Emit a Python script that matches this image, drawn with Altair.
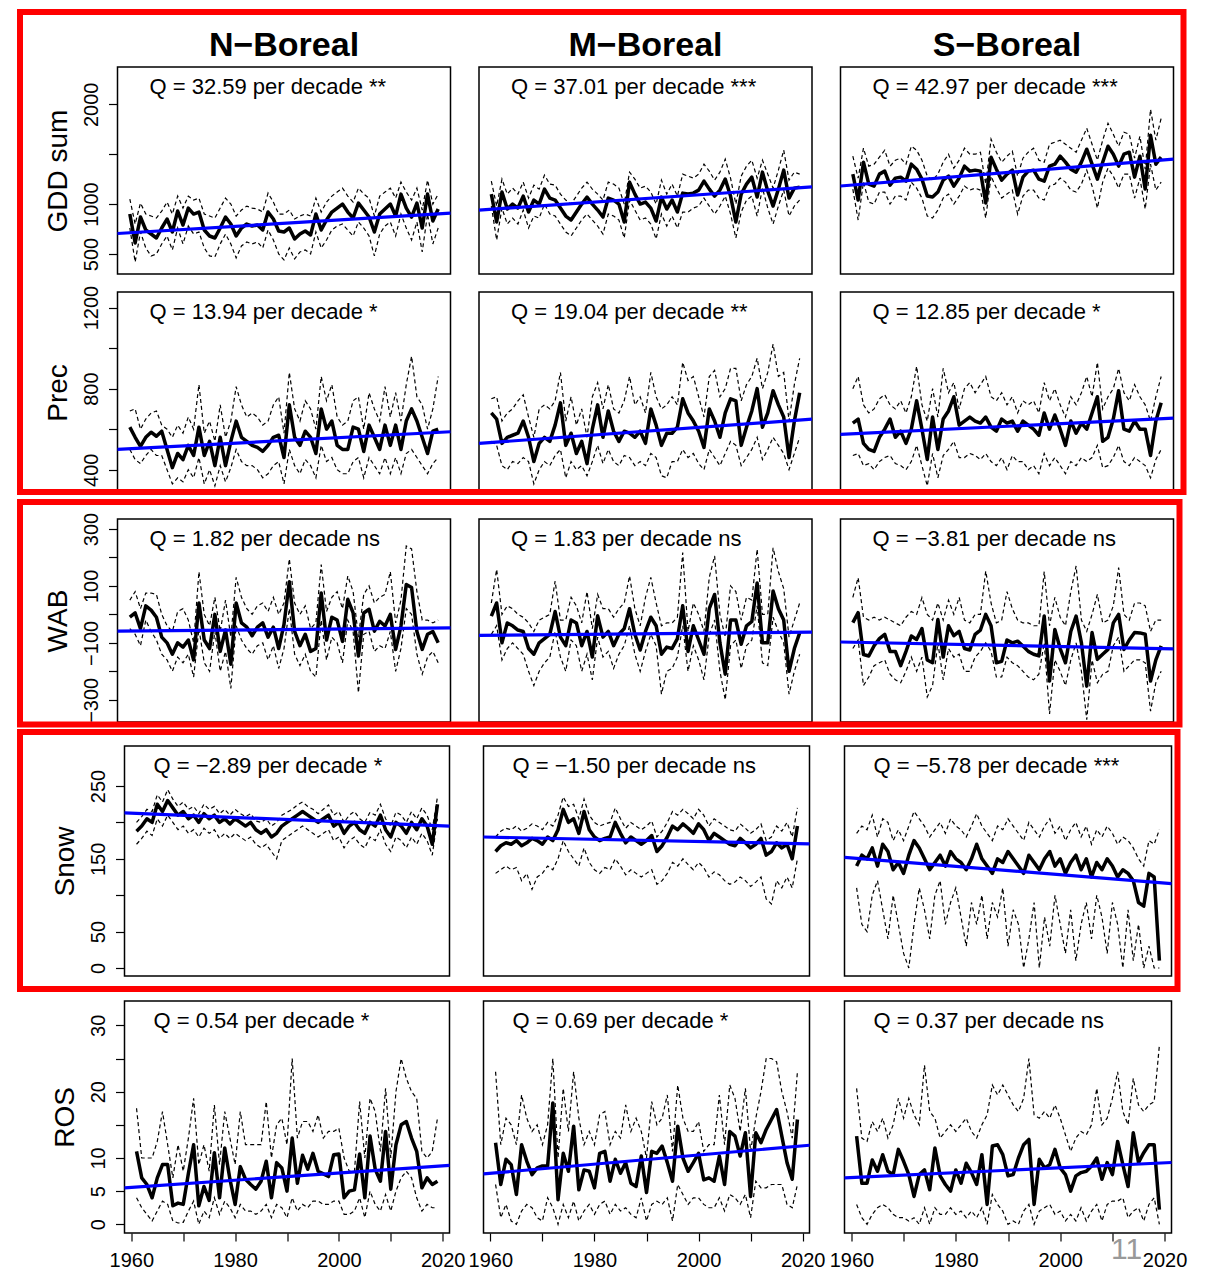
import altair as alt
import pandas as pd

YEARS = list(range(1961, 2020))
X_DOMAIN = [1958.68, 2021.32]

REGIONS = ["N\u2212Boreal", "M\u2212Boreal", "S\u2212Boreal"]
VARIABLES = ["GDD sum", "Prec", "WAB", "Snow", "ROS"]

# ---------------- GDD sum ----------------
GDD_N_MED = [900, 610, 870, 740, 700, 660, 760, 850, 720, 930,
             790, 960, 900, 920, 740, 680, 660, 760, 870, 800,
             680, 760, 800, 780, 790, 740, 920, 850, 730, 720,
             760, 650, 700, 730, 690, 900, 740, 840, 920, 960,
             1000, 920, 860, 1010, 940, 870, 720, 900, 950, 1000,
             880, 1100, 960, 870, 1010, 760, 1100, 830, 950]
GDD_N_UP = [1050, 800, 1010, 900, 880, 860, 930, 1020, 900, 1080,
            960, 1080, 1040, 1060, 900, 880, 860, 960, 1060, 1000,
            880, 940, 980, 960, 950, 920, 1110, 1020, 900, 900,
            940, 850, 880, 900, 880, 1060, 920, 1020, 1080, 1120,
            1160, 1080, 1020, 1160, 1100, 1060, 880, 1080, 1120, 1160,
            1060, 1220, 1120, 1040, 1160, 940, 1240, 1000, 1100]
GDD_N_LO = [760, 420, 720, 560, 480, 500, 600, 680, 540, 760,
            600, 780, 700, 720, 560, 480, 470, 600, 700, 600,
            460, 580, 620, 600, 620, 560, 740, 640, 500, 440,
            560, 450, 520, 540, 500, 720, 560, 640, 740, 780,
            800, 740, 680, 820, 760, 680, 480, 700, 780, 820,
            680, 900, 760, 640, 820, 520, 900, 600, 760]

GDD_M_MED = [1100, 820, 1120, 950, 1000, 960, 1080, 920, 1040, 1000,
             1150, 1060, 1040, 960, 880, 840, 920, 1000, 1070, 1000,
             940, 870, 1060, 1040, 1000, 820, 1220, 1100, 1000, 1020,
             960, 830, 1070, 950, 1040, 920, 1110, 1100, 1110, 1140,
             1230, 1150, 1080, 1140, 1250, 1080, 820, 1100, 1200, 1270,
             1070, 1320, 1130, 980, 1150, 1340, 1060, 1160, 1170]
GDD_M_UP = [1230, 980, 1250, 1100, 1160, 1100, 1220, 1060, 1190, 1150,
            1290, 1200, 1190, 1100, 1040, 1000, 1080, 1160, 1220, 1150,
            1100, 1040, 1220, 1200, 1160, 1000, 1320, 1250, 1160, 1180,
            1120, 1000, 1240, 1100, 1200, 1080, 1300, 1280, 1260, 1300,
            1400, 1330, 1240, 1320, 1450, 1260, 1000, 1280, 1380, 1440,
            1260, 1440, 1300, 1160, 1340, 1540, 1240, 1320, 1300]
GDD_M_LO = [980, 640, 960, 800, 860, 800, 940, 760, 880, 860,
            1000, 900, 880, 800, 720, 680, 760, 840, 900, 840,
            780, 700, 900, 880, 840, 660, 1040, 940, 840, 860,
            800, 650, 900, 780, 880, 760, 920, 920, 960, 980,
            1060, 980, 900, 980, 1080, 900, 660, 920, 1040, 1080,
            880, 1160, 960, 800, 980, 1140, 880, 980, 1040]

GDD_S_MED = [1300, 1040, 1420, 1200, 1180, 1300, 1330, 1190, 1260, 1270,
             1230, 1400, 1350, 1250, 1080, 1070, 1120, 1240, 1280, 1180,
             1260, 1380, 1330, 1340, 1330, 1010, 1470, 1350, 1240, 1300,
             1340, 1090, 1270, 1330, 1340, 1250, 1230, 1380, 1400, 1480,
             1420, 1350, 1320, 1420, 1550, 1400, 1250, 1420, 1580, 1500,
             1380, 1500, 1520, 1270, 1480, 1150, 1690, 1400, 1470]
GDD_S_UP = [1480, 1260, 1560, 1380, 1400, 1470, 1540, 1380, 1440, 1460,
            1400, 1580, 1540, 1440, 1280, 1240, 1300, 1420, 1500, 1360,
            1440, 1560, 1500, 1500, 1520, 1200, 1650, 1520, 1420, 1480,
            1530, 1280, 1460, 1520, 1560, 1440, 1420, 1600, 1620, 1640,
            1600, 1560, 1520, 1640, 1760, 1600, 1440, 1640, 1810, 1700,
            1580, 1720, 1700, 1460, 1680, 1350, 1950, 1640, 1860]
GDD_S_LO = [1150, 840, 1220, 1020, 1000, 1120, 1120, 1000, 1080, 1080,
            1040, 1220, 1160, 1060, 880, 860, 940, 1060, 1100, 1000,
            1080, 1180, 1140, 1160, 1140, 860, 1280, 1160, 1060, 1100,
            1140, 900, 1080, 1140, 1140, 1060, 1040, 1180, 1200, 1260,
            1220, 1140, 1120, 1200, 1340, 1180, 960, 1220, 1360, 1280,
            1160, 1300, 1300, 1060, 1260, 950, 1400, 1140, 1220]

# ---------------- Prec ----------------
PREC_N_MED = [610, 560, 515, 560, 585, 565, 590, 500, 410, 480,
              450, 520, 470, 610, 470, 540, 420, 560, 420, 540,
              640, 560, 540, 520, 510, 490, 520, 560, 570, 460,
              720, 560, 520, 590, 560, 480, 700, 600, 640, 520,
              500, 500, 610, 600, 490, 620, 560, 500, 620, 520,
              620, 500, 640, 700, 640, 560, 480, 590, 600]
PREC_N_UP = [690, 700, 600, 650, 680, 690, 620, 600, 560, 620,
             580, 660, 600, 820, 580, 640, 540, 720, 560, 640,
             810, 720, 660, 680, 660, 620, 640, 720, 760, 580,
             880, 700, 640, 740, 700, 600, 860, 740, 820, 660,
             620, 640, 740, 760, 600, 780, 700, 640, 810, 660,
             780, 640, 820, 960, 760, 720, 600, 700, 860]
PREC_N_LO = [500, 450, 430, 470, 500, 470, 470, 400, 330, 360,
             340, 400, 360, 460, 330, 400, 320, 420, 340, 410,
             500, 440, 420, 420, 400, 360, 380, 420, 440, 330,
             500, 420, 380, 450, 420, 360, 520, 440, 460, 400,
             380, 380, 440, 460, 360, 460, 420, 380, 460, 380,
             460, 380, 480, 500, 460, 420, 380, 430, 460]

PREC_M_MED = [680, 650, 530, 560, 570, 580, 640, 560, 440, 530,
              560, 540, 620, 730, 520, 580, 480, 540, 430, 600,
              720, 560, 690, 590, 540, 590, 580, 560, 590, 530,
              700, 620, 520, 580, 580, 610, 750, 680, 640, 590,
              510, 700, 640, 560, 680, 750, 740, 520, 610, 690,
              800, 610, 680, 790, 720, 660, 460, 640, 780]
PREC_M_UP = [750, 760, 640, 680, 700, 740, 770, 660, 560, 700,
             720, 700, 740, 880, 640, 760, 620, 700, 560, 760,
             830, 700, 820, 700, 680, 740, 860, 720, 760, 680,
             880, 760, 700, 720, 760, 720, 930, 840, 860, 760,
             660, 860, 890, 760, 800, 900, 900, 740, 820, 860,
             950, 800, 880, 1020, 860, 880, 640, 820, 950]
PREC_M_LO = [540, 520, 420, 400, 440, 430, 460, 440, 330, 400,
             440, 420, 470, 500, 360, 440, 400, 420, 370, 440,
             520, 430, 500, 440, 420, 470, 460, 420, 440, 420,
             480, 460, 370, 360, 440, 440, 500, 460, 480, 430,
             400, 500, 460, 420, 480, 540, 520, 420, 460, 500,
             560, 450, 500, 560, 520, 480, 400, 480, 560]

PREC_S_MED = [630, 650, 530, 500, 490, 560, 600, 650, 560, 590,
              530, 600, 740, 600, 450, 660, 500, 650, 690, 760,
              620, 640, 660, 640, 630, 660, 610, 590, 650, 630,
              640, 590, 640, 620, 600, 570, 680, 600, 670, 600,
              520, 640, 580, 630, 600, 680, 760, 540, 560, 650,
              790, 600, 590, 640, 600, 600, 470, 640, 730]
PREC_S_UP = [800, 860, 720, 680, 700, 750, 770, 720, 700, 740,
             680, 760, 910, 720, 640, 800, 660, 900, 780, 830,
             700, 800, 830, 780, 820, 860, 760, 740, 780, 720,
             760, 680, 740, 720, 740, 680, 830, 740, 800, 720,
             660, 760, 720, 780, 860, 760, 930, 700, 760, 800,
             900, 780, 740, 820, 760, 720, 640, 760, 860]
PREC_S_LO = [470, 480, 420, 430, 400, 440, 460, 470, 430, 420,
             400, 440, 520, 420, 320, 480, 360, 470, 500, 540,
             460, 460, 480, 470, 450, 480, 440, 420, 460, 400,
             470, 440, 440, 400, 420, 380, 480, 420, 460, 420,
             380, 440, 420, 460, 440, 460, 520, 410, 420, 460,
             520, 440, 420, 460, 440, 420, 360, 450, 500]

# ---------------- WAB ----------------
WAB_N_MED = [-10, 5, -50, 30, 15, -10, -80, -100, -140, -100,
             -115, -90, -160, 40, -90, -120, 0, -130, -55, -175,
             40, -30, -45, -75, -45, -30, -80, -45, -120, -35,
             115, -60, -110, -70, -130, -120, 75, -90, -10, -20,
             -95, 53, 5, -146, 5, 18, -59, -24, -41, 0,
             -123, -41, 105, 94, -60, -123, -70, -60, -100]
WAB_N_UP = [50, 80, 20, 75, 75, 70, 0, -40, -60, 10,
            20, -20, -100, 150, 0, -40, 60, -60, 50, -80,
            130, 60, 20, 0, 30, 40, 10, 60, 0, 40,
            195, 40, 0, 30, -50, -30, 175, 10, 60, 80,
            20, 135, 80, -80, 70, 100, 40, 60, 70, 150,
            -30, 50, 240, 230, 80, -20, -20, -30, -20]
WAB_N_LO = [-50, -70, -110, -20, -60, -90, -140, -160, -200, -150,
            -170, -140, -220, -50, -170, -200, -60, -200, -130, -260,
            -40, -90, -120, -140, -110, -100, -160, -110, -190, -120,
            20, -140, -180, -140, -200, -220, -20, -160, -80, -100,
            -170, -20, -60, -275, -70, -60, -130, -110, -120, -60,
            -200, -120, 20, 0, -140, -210, -150, -130, -170]

WAB_M_MED = [-6, 40, -100, -30, -40, -55, -60, -120, -140, -100,
             -85, -70, 10, -80, -110, -20, -30, -110, -60, -150,
             -5, -80, -60, -110, -70, -50, 20, -70, -125, -60,
             -10, -40, -140, -115, -120, -85, 30, -130, -40, -90,
             -140, 20, 70, -100, -210, -20, -20, -105, -40, -25,
             110, -100, -100, 82, 20, -20, -200, -120, -65]
WAB_M_UP = [40, 158, 0, 30, 20, 0, -10, -30, -60, -20,
            -10, 0, 117, -20, -20, 60, 30, -30, 80, -50,
            70, 20, 20, -10, 20, 40, 135, 20, -40, 60,
            130, 40, -40, -30, -30, -10, 217, -60, 40, 0,
            -60, 130, 205, 0, -80, 100, 80, -20, 60, 50,
            229, 0, 0, 234, 150, 90, -80, -20, 40]
WAB_M_LO = [-70, -40, -160, -120, -100, -120, -140, -200, -250, -200,
            -170, -150, -60, -150, -200, -90, -110, -200, -140, -230,
            -80, -150, -130, -190, -140, -110, -40, -140, -200, -130,
            -70, -110, -280, -200, -190, -150, -40, -200, -110, -160,
            -230, -70, -20, -200, -300, -110, -90, -190, -110, -90,
            30, -170, -180, -10, -60, -100, -280, -200, -140]

WAB_S_MED = [-29, 6, -141, -146, -110, -85, -70, -130, -130, -180,
             -130, -76, -88, -50, -160, -170, -18, -150, -40, -75,
             -60, -120, -125, -70, -55, 0, -40, -170, -165, -90,
             -100, -94, -111, -130, -140, -146, -6, -234, -53, -120,
             -170, -60, -6, -100, -252, -64, -158, -140, -123, -30,
             0, -123, -90, -64, -65, -70, -234, -160, -111]
WAB_S_UP = [60, 129, -10, -20, -10, -20, -10, -20, -30, -40,
            -10, 10, 0, 59, 0, -20, 40, -20, 50, 0,
            60, -20, -30, 0, 0, 152, 40, -30, -20, 80,
            20, -20, -30, -30, -40, -40, 150, -40, 60, -10,
            -40, 80, 170, -20, -60, 0, 70, -30, -20, 30,
            164, 0, -20, 40, 40, 30, -60, -20, -20]
WAB_S_LO = [-120, -90, -250, -220, -180, -170, -160, -210, -230, -240,
            -200, -150, -200, -150, -290, -250, -100, -230, -120, -150,
            -140, -200, -200, -150, -130, -100, -130, -220, -220, -150,
            -170, -180, -200, -220, -230, -210, -100, -350, -160, -200,
            -250, -160, -100, -200, -370, -160, -240, -210, -200, -110,
            -80, -200, -180, -160, -160, -170, -340, -240, -200]

# ---------------- Snow ----------------
SNOW_N_MED = [188, 195, 205, 200, 225, 215, 230, 220, 210, 215,
              205, 210, 200, 212, 205, 210, 200, 205, 198, 205,
              200, 195, 200, 190, 185, 190, 180, 185, 195, 200,
              205, 210, 215, 210, 205, 200, 205, 210, 195, 200,
              185, 195, 200, 190, 185, 200, 195, 210, 190, 180,
              200, 195, 185, 200, 190, 205, 195, 170, 225]
SNOW_N_UP = [200, 208, 218, 215, 238, 228, 245, 232, 222, 228,
             218, 222, 212, 225, 218, 222, 212, 218, 210, 218,
             212, 208, 212, 202, 200, 205, 195, 200, 210, 214,
             218, 224, 228, 222, 218, 212, 218, 224, 210, 215,
             200, 210, 215, 205, 200, 214, 210, 225, 205, 195,
             214, 210, 200, 215, 205, 220, 210, 190, 235]
SNOW_N_LO = [170, 178, 188, 182, 205, 195, 210, 200, 190, 195,
             185, 190, 180, 192, 185, 190, 178, 185, 178, 185,
             180, 175, 180, 170, 165, 170, 160, 150, 175, 180,
             185, 190, 195, 190, 185, 180, 185, 190, 175, 180,
             165, 175, 180, 170, 165, 180, 175, 190, 170, 160,
             180, 175, 165, 180, 170, 185, 175, 155, 205]

SNOW_M_MED = [160, 168, 172, 170, 175, 168, 172, 178, 175, 170,
              180, 175, 190, 218, 200, 205, 185, 215, 190, 180,
              175, 178, 180, 200, 185, 172, 180, 175, 170, 175,
              182, 160, 168, 180, 195, 190, 198, 192, 185, 198,
              190, 175, 185, 180, 175, 170, 168, 178, 172, 165,
              170, 178, 155, 160, 172, 165, 170, 150, 195]
SNOW_M_UP = [180, 188, 192, 190, 195, 188, 192, 198, 195, 190,
             200, 195, 210, 235, 222, 225, 205, 232, 210, 200,
             195, 198, 200, 220, 205, 192, 200, 195, 190, 195,
             202, 180, 188, 200, 215, 210, 218, 212, 205, 218,
             210, 195, 205, 200, 195, 190, 188, 198, 192, 185,
             190, 198, 175, 180, 195, 188, 200, 180, 220]
SNOW_M_LO = [130, 135, 140, 135, 138, 120, 130, 108, 125, 130,
             140, 135, 150, 175, 160, 150, 140, 165, 145, 135,
             130, 138, 135, 150, 140, 128, 135, 130, 125, 130,
             135, 115, 120, 130, 145, 140, 150, 142, 135, 145,
             138, 125, 132, 128, 120, 115, 118, 125, 120, 112,
             118, 125, 95, 88, 120, 110, 125, 110, 150]

SNOW_S_MED = [140, 155, 150, 165, 140, 170, 160, 135, 145, 130,
              155, 175, 165, 150, 135, 145, 155, 140, 160, 150,
              145, 135, 150, 170, 150, 140, 130, 150, 145, 160,
              150, 140, 130, 155, 145, 135, 150, 160, 140, 150,
              130, 145, 155, 135, 150, 125, 145, 135, 150, 140,
              125, 135, 130, 120, 90, 85, 130, 125, 10]
SNOW_S_UP = [185, 195, 190, 210, 180, 205, 200, 175, 190, 175,
             195, 215, 205, 195, 180, 190, 200, 185, 205, 195,
             190, 180, 195, 212, 195, 185, 175, 195, 190, 205,
             195, 185, 175, 200, 190, 180, 195, 205, 185, 195,
             175, 190, 200, 180, 195, 170, 190, 180, 195, 185,
             170, 180, 175, 165, 150, 140, 175, 170, 190]
SNOW_S_LO = [110, 60, 50, 100, 120, 80, 40, 100, 60, 20,
             0, 60, 110, 80, 40, 100, 120, 60, 90, 110,
             70, 30, 90, 60, 100, 40, 90, 70, 110, 30,
             80, 60, 0, 40, 90, 0, 70, 30, 100, 60,
             20, 80, 10, 60, 90, 40, 100, 70, 20, 90,
             60, 0, 80, 10, 60, 0, 30, 0, 0]

# ---------------- ROS ----------------
ROS_N_MED = [11, 7, 6, 4, 7, 9, 9, 2.8, 3.2, 3,
             7.7, 12, 2.8, 5.7, 3.6, 10.8, 4, 11.5, 6.8, 3,
             8.7, 6.8, 6, 5.3, 6.5, 9.5, 4, 9.3, 8.5, 5,
             13, 6.2, 10.4, 8.3, 10.7, 8, 7.6, 7.2, 10.5, 10.6,
             4, 5, 5.2, 10.6, 4, 13.3, 8.3, 6.5, 14, 5.3,
             12, 15, 15.5, 13, 11, 5.5, 7, 6, 6.5]
ROS_N_UP = [17.5, 10, 10, 10, 12.5, 17, 12, 7, 12, 8,
            13, 19, 9, 12, 8, 18, 9, 17, 13, 9,
            17, 12, 12, 12, 12, 18.5, 10, 15, 16, 12,
            25, 13, 15.5, 15.5, 14, 16.5, 13, 14, 14, 14.5,
            10, 8, 8, 18.5, 10, 19, 17, 11, 20.5, 10,
            20, 25, 22, 20, 19, 11, 10, 11, 16]
ROS_N_LO = [4, 2.5, 1.5, 0.5, 2, 3.5, 3, 0.5, 0.2, 0.3,
            2, 3.5, 0, 2, 1, 4, 1.5, 3.5, 2.5, 1,
            3, 2, 2, 1.5, 2, 3, 1, 3, 2.5, 1,
            4, 2, 3, 2.5, 3.5, 3.5, 3, 3, 3.5, 3.5,
            1.5, 1.5, 2, 4, 1, 5, 3, 2, 4.5, 2,
            5, 7, 8, 7, 4, 2, 3, 2.5, 2.5]

ROS_M_MED = [12.3, 6, 9.8, 9, 4.5, 12, 9.5, 7.5, 8.5, 8.8,
             8.8, 18.3, 3.7, 10.7, 8, 14.8, 5.2, 8.2, 8, 5.5,
             10.7, 11, 6.5, 9.8, 7.7, 9.3, 6.2, 5.7, 10.3, 4.8,
             11, 10.7, 11.8, 9.3, 6.5, 14.8, 10, 8, 9.3, 10.7,
             6.7, 7, 6.5, 10.3, 6, 14, 13.3, 10.3, 13.8, 4.2,
             13.8, 12.3, 14.3, 15.8, 17.3, 13.3, 9.3, 6.8, 15.8]
ROS_M_UP = [23, 12, 16, 15, 12, 19.5, 16, 14, 15, 12,
            15, 25, 10, 20.5, 14, 23, 16, 12, 14, 12,
            16.5, 17, 12, 14, 13, 18, 14, 16, 14, 10,
            18.5, 15, 16, 19.5, 11, 21, 16, 14, 14, 15.5,
            11, 12, 12, 19.5, 12, 21, 19, 14, 20.5, 11,
            16, 20, 25, 25, 24.5, 20, 17, 13, 23]
ROS_M_LO = [6, 1, 3, 0.5, 0, 2, 3, 2.5, 1, 0.5,
            4, 2.5, 0, 3, 1, 3.5, 0.5, 2, 3, 1.5,
            3, 3.5, 1.5, 3, 2, 2.5, 1.5, 1, 4, 0.5,
            3, 3.5, 3, 4, 0.5, 6, 4.5, 3, 4, 4,
            3, 2.5, 2.5, 4, 2, 4.5, 4, 3, 4.5, 1,
            6.5, 5.5, 5.5, 6, 6, 6, 3, 2.5, 6]

ROS_S_MED = [13.3, 6.2, 6.2, 9.7, 8, 10.5, 8, 7.5, 11.3, 9.5,
             7.5, 4.2, 7.5, 8.2, 5.2, 11.5, 7.3, 6, 5, 8.2,
             6.2, 9.2, 7.8, 6, 10.5, 3, 11.8, 12, 10.5, 7.3,
             7.5, 10, 12, 12.8, 3, 9.8, 8.5, 9, 11.3, 8.5,
             7.5, 5, 7.3, 7.8, 8, 8.8, 10, 6.8, 9.3, 7.5,
             12.5, 9, 5.7, 13.8, 9.3, 10.8, 12, 12, 2.2]
ROS_S_UP = [20.5, 13, 12.5, 15.5, 14, 16, 13, 15, 19, 16,
            19, 16.5, 15, 24, 17, 16, 13, 14, 15, 14,
            15, 16, 14, 13, 15, 16.5, 21, 19.5, 21, 19.5,
            18, 17, 19, 25, 16.5, 16, 17, 16, 18, 16,
            13.5, 11, 13, 14, 13.5, 15, 20.5, 15, 16, 19,
            23, 17, 15, 22, 18, 17, 18, 18.5, 27]
ROS_S_LO = [3, 1, 0, 1.5, 2.5, 3, 2.5, 1.5, 1, 1,
            0.5, 1, 0, 2.5, 0, 2.5, 1.5, 1.5, 2.5, 1.5,
            2, 1, 2, 1, 2.5, 0, 4.5, 3, 2, 0,
            0.5, 0, 2, 3, 0, 2, 2.5, 3, 1.5, 2,
            0.5, 1.5, 0.5, 2.5, 0.5, 2, 3, 0.5, 3, 3.5,
            3.5, 4, 1, 2, 2.5, 0.5, 3, 4, 0]

# Sen's slope per decade, significance, trend value at left edge of the axis
Q_VALUES = [[32.59, 37.01, 42.97], [13.94, 19.04, 12.85], [1.82, 1.83, -3.81],
            [-2.89, -1.50, -5.78], [0.54, 0.69, 0.37]]
Q_SIG = [["**", "***", "***"], ["*", "**", "*"], ["ns", "ns", "ns"],
         ["*", "ns", "***"], ["*", "*", "ns"]]
TREND_START = [[705, 940, 1181], [500, 530, 574], [-59, -74, -97],
               [213, 180, 152], [5.5, 7.6, 7.0]]

Y_DOMAINS = [[299, 2374], [285, 1277], [-378, 335], [-11, 305], [-1.31, 33.67]]
Y_TICKS = [[500, 1000, 1500, 2000], [400, 600, 800, 1000, 1200],
           [-300, -200, -100, 0, 100, 200, 300], [0, 50, 100, 150, 200, 250],
           [0, 5, 10, 15, 20, 25, 30]]
Y_LABELLED = [[500, 1000, 2000], [400, 800, 1200], [-300, -100, 100, 300],
              [0, 50, 150, 250], [0, 5, 10, 20, 30]]
X_TICKS = [1960, 1970, 1980, 1990, 2000, 2010, 2020]
X_LABELLED = [1960, 1980, 2000, 2020]

SERIES = [
    [(GDD_N_MED, GDD_N_UP, GDD_N_LO), (GDD_M_MED, GDD_M_UP, GDD_M_LO), (GDD_S_MED, GDD_S_UP, GDD_S_LO)],
    [(PREC_N_MED, PREC_N_UP, PREC_N_LO), (PREC_M_MED, PREC_M_UP, PREC_M_LO), (PREC_S_MED, PREC_S_UP, PREC_S_LO)],
    [(WAB_N_MED, WAB_N_UP, WAB_N_LO), (WAB_M_MED, WAB_M_UP, WAB_M_LO), (WAB_S_MED, WAB_S_UP, WAB_S_LO)],
    [(SNOW_N_MED, SNOW_N_UP, SNOW_N_LO), (SNOW_M_MED, SNOW_M_UP, SNOW_M_LO), (SNOW_S_MED, SNOW_S_UP, SNOW_S_LO)],
    [(ROS_N_MED, ROS_N_UP, ROS_N_LO), (ROS_M_MED, ROS_M_UP, ROS_M_LO), (ROS_S_MED, ROS_S_UP, ROS_S_LO)],
]

# ---------------- layout ----------------
FONT = "Liberation Sans"
HEIGHTS = [207, 201, 203, 230, 232]
CELL_W = 333
GAP_ROWS = [2, 10, 8, 9]   # spacer rows between panel rows
# plot box (left, right) inside each grid cell: upper rows fill the cell,
# the two lower rows are a little narrower / shifted as in the original
BOX_UPPER = [(0, 333), (0, 333), (0, 333)]
BOX_LOWER = [(7, 332), (4.5, 330.5), (4, 331)]


def label_expr(vals):
    cond = " || ".join(f"datum.value == {v}" for v in vals)
    return f"({cond}) ? datum.label : ''"


X_AXIS = alt.Axis(values=X_TICKS, labelExpr=label_expr(X_LABELLED), format="d",
                  tickSize=8, tickColor="black", tickWidth=1.2, domain=False, grid=False,
                  labelFontSize=20, labelFont=FONT, labelColor="black", labelPadding=9,
                  labelFlush=False, labelOverlap=False, title="")


def y_axis(r, offset):
    return alt.Axis(values=Y_TICKS[r], labelExpr=label_expr(Y_LABELLED[r]), format="d",
                    tickSize=9, tickColor="black", tickWidth=1.2, domain=False, grid=False,
                    offset=offset,
                    labelAngle=270, labelAlign="center", labelBaseline="alphabetic",
                    labelFontSize=20, labelFont=FONT, labelColor="black", labelPadding=11,
                    labelFlush=False, labelOverlap=False,
                    title=VARIABLES[r], titleFont=FONT, titleFontSize=28,
                    titleFontWeight="normal", titleColor="black", titleAngle=270,
                    titleAlign="center", titleBaseline="middle",
                    titleX=-59, titleY=HEIGHTS[r] / 2)


def fmt_q(q, sig):
    s = f"{q:.2f}".replace("-", "\u2212")
    return f"Q = {s} per decade {sig}"


def panel(r, c):
    h = HEIGHTS[r]
    bx0, bx1 = (BOX_UPPER if r < 3 else BOX_LOWER)[c]
    med, up, lo = SERIES[r][c]
    xs = alt.Scale(domain=X_DOMAIN, range=[bx0, bx1], nice=False, zero=False)
    ys = alt.Scale(domain=Y_DOMAINS[r], nice=False, zero=False)
    xax = X_AXIS if r == 4 else None
    yax = y_axis(r, -bx0) if c == 0 else None

    def xy(ch):
        return ch.encode(x=alt.X("year:Q", scale=xs, axis=xax),
                         y=alt.Y("value:Q", scale=ys, axis=yax))

    df_up = pd.DataFrame({"year": YEARS[:len(up)], "value": up})
    df_lo = pd.DataFrame({"year": YEARS[:len(lo)], "value": lo})
    df_med = pd.DataFrame({"year": YEARS[:len(med)], "value": med})
    q = Q_VALUES[r][c]
    t0 = TREND_START[r][c]
    df_tr = pd.DataFrame({"year": X_DOMAIN,
                          "value": [t0, t0 + q * (X_DOMAIN[1] - X_DOMAIN[0]) / 10.0]})

    layers = [
        # plot frame
        alt.Chart(pd.DataFrame({"k": [0]}))
        .mark_rect(fillOpacity=0, stroke="black", strokeWidth=1.5)
        .encode(x=alt.value(bx0), x2=alt.value(bx1), y=alt.value(0), y2=alt.value(h)),
        xy(alt.Chart(df_up).mark_line(color="black", strokeWidth=1.2, strokeDash=[4, 3])),
        xy(alt.Chart(df_lo).mark_line(color="black", strokeWidth=1.2, strokeDash=[4, 3])),
        xy(alt.Chart(df_med).mark_line(color="black", strokeWidth=3.5, strokeJoin="round")),
        xy(alt.Chart(df_tr).mark_line(color="#0000FF", strokeWidth=3.2)),
    ]
    layers.append(
        alt.Chart(pd.DataFrame({"t": [fmt_q(q, Q_SIG[r][c])]}))
        .mark_text(align="left", baseline="middle", font=FONT, fontSize=22, color="black")
        .encode(x=alt.value(bx0 + (32 if r < 3 else 29)), y=alt.value(20), text="t:N")
    )
    if r == 0:
        layers.append(
            alt.Chart(pd.DataFrame({"t": [REGIONS[c]]}))
            .mark_text(align="center", baseline="middle", font=FONT, fontSize=34,
                       fontWeight="bold", color="black")
            .encode(x=alt.value((bx0 + bx1) / 2), y=alt.value(-21), text="t:N")
        )
    if r == 4 and c == 2:
        # red group frames (drawn last, on top of everything)
        frames = [(-820.5, 343, -989, -509), (-820.5, 339, -499, -276.5), (-820.5, 337, -269, -12)]
        for (x1, x2, y1, y2) in frames:
            layers.append(
                alt.Chart(pd.DataFrame({"k": [0]}))
                .mark_rect(fillOpacity=0, stroke="#FF0000", strokeWidth=6)
                .encode(x=alt.value(x1), x2=alt.value(x2), y=alt.value(y1), y2=alt.value(y2))
            )
        layers.append(
            alt.Chart(pd.DataFrame({"t": ["11"]}))
            .mark_text(align="center", baseline="alphabetic", font=FONT, fontSize=30,
                       color="#999999")
            .encode(x=alt.value(286), y=alt.value(258), text="t:N")
        )
    return alt.layer(*layers).properties(
        width=CELL_W, height=h, view=alt.ViewBackground(stroke="transparent"))


def spacer(h):
    return (alt.Chart(pd.DataFrame({"v": [0]}))
            .mark_point(opacity=0)
            .encode(x=alt.X("v:Q", axis=None), y=alt.Y("v:Q", axis=None))
            .properties(width=1, height=h,
                        view=alt.ViewBackground(stroke="transparent")))


cells = []
for r in range(5):
    if r > 0:
        cells += [spacer(GAP_ROWS[r - 1]) for _ in range(3)]
    cells += [panel(r, c) for c in range(3)]

chart = alt.concat(*cells, columns=3, spacing={"row": 8, "column": 28.5}, bounds="flush",
                   padding={"left": 8.5, "top": 0, "right": 5, "bottom": 0},
                   background="white")
chart = chart.configure(font=FONT).configure_view(stroke="transparent")

chart.save("out.html", embed_options={"renderer": "svg", "actions": False})
